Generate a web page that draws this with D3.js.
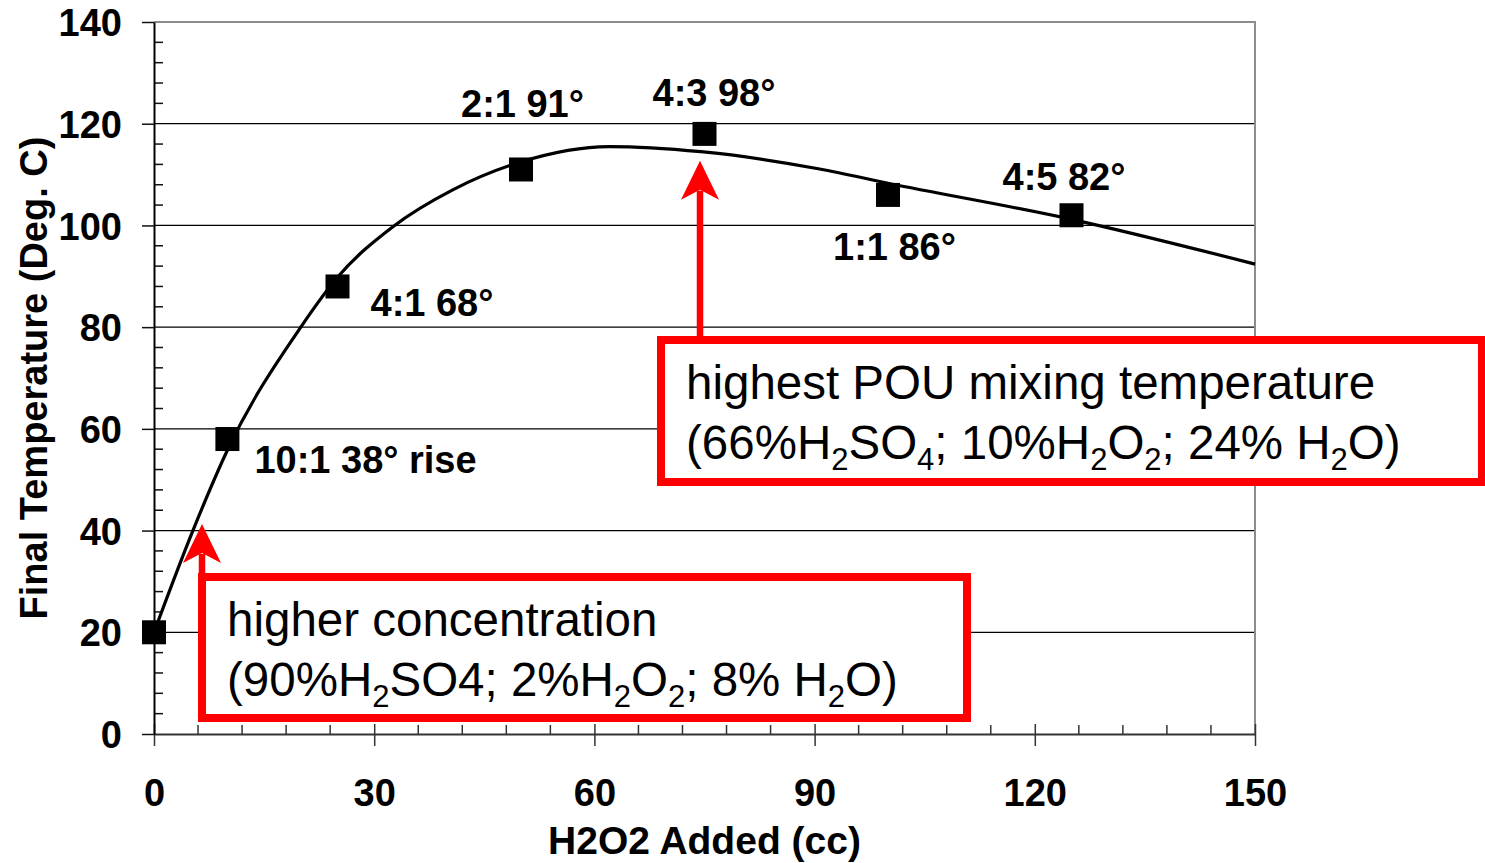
<!DOCTYPE html>
<html>
<head>
<meta charset="utf-8">
<script src="https://cdn.jsdelivr.net/npm/d3@7"></script>
<style>
  body { margin: 0; background: #fff; }
  svg { display: block; font-family: "Liberation Sans", Arial, sans-serif; }
</style>
</head>
<body>
<svg id="chart" width="1485" height="863"></svg>
<script>
// measured points
const h2o2Added = [0, 10, 25, 50, 75, 100, 125];
const finalTemp = [20, 58, 88, 111, 118, 106, 102];
const ratioLabels = ["", "10:1 38\u00b0 rise", "4:1 68\u00b0", "2:1 91\u00b0", "4:3 98\u00b0", "1:1 86\u00b0", "4:5 82\u00b0"];

// trend line
const trendX = [0, 5.3, 10, 20, 25, 32.5, 40.7, 50, 62, 74.5, 90.7, 100, 125, 150];
const trendY = [20, 40, 55.8, 80, 89.8, 99.7, 107, 112.5, 115.5, 114.5, 111.1, 108.3, 101.2, 92.4];

const xTicks = [0, 30, 60, 90, 120, 150];
const yTicks = [0, 20, 40, 60, 80, 100, 120, 140];

const svg = d3.select("#chart");
const mLeft = 154, mRight = 1255, mTop = 22, mBottom = 734;

const x = d3.scaleLinear().domain([0, 150]).range([mLeft, mRight]);
const y = d3.scaleLinear().domain([0, 140]).range([mBottom, mTop]);

// gridlines
svg.append("g").selectAll("line")
  .data(yTicks.filter(d => d > 0 && d < 140))
  .enter().append("line")
  .attr("x1", mLeft).attr("x2", mRight)
  .attr("y1", d => y(d)).attr("y2", d => y(d))
  .attr("stroke", "#000").attr("stroke-width", 1.3);

// top + right border (grey)
svg.append("path")
  .attr("d", `M${mLeft},${y(140)}H${x(150)}V${mBottom}`)
  .attr("fill", "none").attr("stroke", "#8c8c8c").attr("stroke-width", 2);

// minor ticks
svg.append("g").selectAll("line")
  .data(d3.range(0, 151, 6).filter(d => d % 30 !== 0))
  .enter().append("line")
  .attr("x1", d => x(d)).attr("x2", d => x(d))
  .attr("y1", mBottom).attr("y2", mBottom - 9)
  .attr("stroke", "#333").attr("stroke-width", 1.5);

svg.append("g").selectAll("line")
  .data(d3.range(0, 141, 4).filter(d => d % 20 !== 0))
  .enter().append("line")
  .attr("x1", mLeft).attr("x2", mLeft + 9)
  .attr("y1", d => y(d)).attr("y2", d => y(d))
  .attr("stroke", "#111").attr("stroke-width", 1.5);

// axes
const xAxis = svg.append("g")
  .attr("transform", `translate(0,${mBottom})`)
  .call(d3.axisBottom(x).tickValues(xTicks).tickSize(12).tickSizeOuter(0).tickFormat(d3.format("d")));
xAxis.select(".domain").attr("stroke", "#333").attr("stroke-width", 2);
xAxis.selectAll(".tick line").attr("y1", -10).attr("stroke", "#333").attr("stroke-width", 1.5);
xAxis.selectAll(".tick text")
  .attr("y", 72).attr("dy", 0)
  .attr("font-size", 38).attr("font-weight", "bold")
  .attr("font-family", "Liberation Sans, Arial, sans-serif").attr("fill", "#000");

const yAxis = svg.append("g")
  .attr("transform", `translate(${mLeft},0)`)
  .call(d3.axisLeft(y).tickValues(yTicks).tickSize(12).tickSizeOuter(0));
yAxis.select(".domain").attr("stroke", "#000").attr("stroke-width", 2);
yAxis.selectAll(".tick line").attr("stroke", "#111").attr("stroke-width", 1.5);
yAxis.selectAll(".tick text")
  .attr("x", -32).attr("dy", "0.36em")
  .attr("font-size", 38).attr("font-weight", "bold")
  .attr("font-family", "Liberation Sans, Arial, sans-serif").attr("fill", "#000");

// axis titles
svg.append("text")
  .attr("x", (mLeft + mRight) / 2).attr("y", 854)
  .attr("text-anchor", "middle")
  .attr("font-size", 39).attr("font-weight", "bold")
  .text("H2O2 Added (cc)");

svg.append("text")
  .attr("transform", "translate(47,378) rotate(-90)")
  .attr("text-anchor", "middle")
  .attr("font-size", 38).attr("font-weight", "bold")
  .text("Final Temperature (Deg. C)");

// trend curve
const trend = trendX.map((d, i) => [d, trendY[i]]);
svg.append("path")
  .datum(trend)
  .attr("d", d3.line().x(d => x(d[0])).y(d => y(d[1])).curve(d3.curveMonotoneX))
  .attr("fill", "none").attr("stroke", "#000").attr("stroke-width", 3.2);

// markers
const pts = h2o2Added.map((d, i) => ({ x: d, y: finalTemp[i], label: ratioLabels[i] }));
svg.append("g").selectAll("rect")
  .data(pts)
  .enter().append("rect")
  .attr("x", d => x(d.x) - 12).attr("y", d => y(d.y) - 12)
  .attr("width", 24).attr("height", 24)
  .attr("fill", "#000");

// point labels (offsets in px from the marker)
const labelDx = [0, 27, 33, -60, -52, -55, -69];
const labelDy = [0, 34, 30, -52, -28, 65, -25];
svg.append("g").selectAll("text")
  .data(pts)
  .enter().append("text")
  .attr("x", (d, i) => x(d.x) + labelDx[i])
  .attr("y", (d, i) => y(d.y) + labelDy[i])
  .attr("font-size", 38).attr("font-weight", "bold")
  .text(d => d.label);

// annotations
const red = "#ff0000";

function arrow(cx, tipY, baseY) {
  svg.append("line")
    .attr("x1", cx).attr("x2", cx)
    .attr("y1", tipY + 30).attr("y2", baseY)
    .attr("stroke", red).attr("stroke-width", 6.5);
  svg.append("path")
    .attr("d", `M${cx},${tipY} L${cx + 19},${tipY + 39} L${cx},${tipY + 29} L${cx - 19},${tipY + 39} Z`)
    .attr("fill", red);
}

function note(bx, by, bw, bh, lines) {
  svg.append("rect")
    .attr("x", bx).attr("y", by).attr("width", bw).attr("height", bh)
    .attr("fill", "#fff").attr("stroke", red).attr("stroke-width", 8);
  lines.forEach((parts, i) => {
    const t = svg.append("text")
      .attr("x", bx + 25).attr("y", by + 59 + i * 60)
      .attr("font-size", 47.5);
    let shift = 0;
    parts.forEach(p => {
      if (p.sub) {
        t.append("tspan").attr("font-size", 31).attr("dy", 11 - shift).text(p.sub);
        shift = 11;
      } else {
        t.append("tspan").attr("dy", -shift).text(p.t);
        shift = 0;
      }
    });
  });
}

arrow(700, y(112.7), 340);
note(661, 340, 821, 142, [
  [{ t: "highest POU mixing temperature" }],
  [{ t: "(66%H" }, { sub: "2" }, { t: "SO" }, { sub: "4" }, { t: "; 10%H" }, { sub: "2" }, { t: "O" }, { sub: "2" }, { t: "; 24% H" }, { sub: "2" }, { t: "O)" }]
]);

arrow(202, y(41.3), 577);
note(202, 577, 765, 141, [
  [{ t: "higher concentration" }],
  [{ t: "(90%H" }, { sub: "2" }, { t: "SO4; 2%H" }, { sub: "2" }, { t: "O" }, { sub: "2" }, { t: "; 8% H" }, { sub: "2" }, { t: "O)" }]
]);
</script>
</body>
</html>
